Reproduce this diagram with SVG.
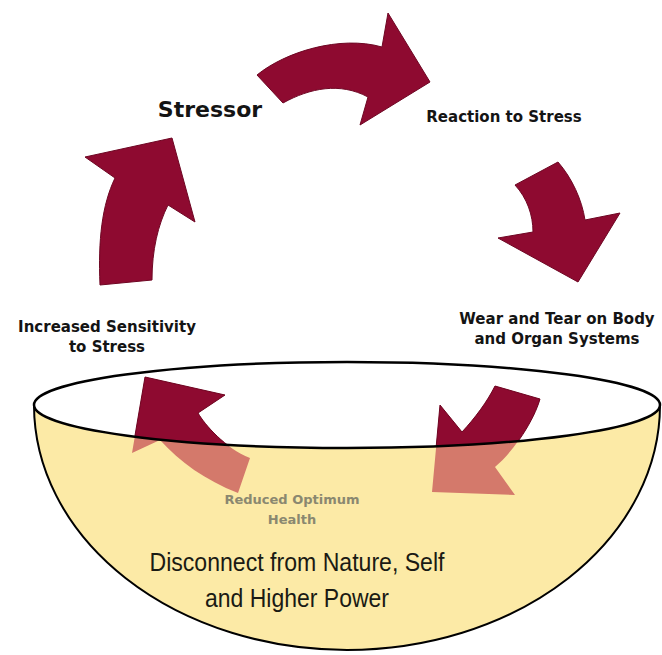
<svg xmlns="http://www.w3.org/2000/svg" width="662" height="655" viewBox="0 0 662 655">
<style>
.lbl{font-family:"DejaVu Sans",Verdana,sans-serif;font-weight:bold;fill:#141414;text-anchor:middle;font-size:15px}
.arrow{fill:#8E0A30;stroke:#6E0623;stroke-width:1;stroke-linejoin:round}
.sub{fill:#D4796B;stroke:none}
.grey{font-family:"DejaVu Sans",Verdana,sans-serif;font-weight:bold;fill:#8A8870;text-anchor:middle;font-size:13px}
.big{font-family:"Liberation Sans",Arial,sans-serif;font-size:25px;fill:#1a1a14;text-anchor:middle}
</style>
<defs>
<clipPath id="aboveRim"><path d="M0,0 H662 V405 H660 A313,43 0 0 1 34,405 H0 Z"/></clipPath>
<path id="a4" d="M495,386 L540,399 C534,420 515,450 495,467 L515,495 L432,492 L440,405 L462,432 C475,418 487,402 495,386 Z"/>
<path id="a5" d="M250,458 L238,493 C205,480 180,462 160,440 L132,453 L145,377 L225,395 L198,413 C205,425 225,448 250,458 Z"/>
</defs>
<rect width="662" height="655" fill="#fff"/>
<g id="bowl">
<path d="M34,405 A313,43 0 0 0 660,405 A313,245 0 0 1 34,405 Z" fill="#FCEAA6"/>
<path d="M34,405 A313,245 0 0 0 660,405" fill="none" stroke="#000" stroke-width="2"/>
</g>
<g id="connectors">
<path class="arrow" d="M100,285 C98,240 102,205 115,178 L85,157 L172,138 L195,222 L168,205 C158,225 152,250 152,280 Z"/>
<path class="arrow" d="M257,75 C285,52 340,35 382,47 L388,13 L430,82 L360,125 L368,97 C340,82 310,88 283,103 Z"/>
<path class="arrow" d="M515,185 C527,198 533,215 533,232 L498,238 L578,282 L620,213 L585,220 C582,200 572,178 558,162 Z"/>
<use href="#a4" class="sub"/>
<use href="#a4" class="arrow" clip-path="url(#aboveRim)"/>
<use href="#a5" class="sub"/>
<use href="#a5" class="arrow" clip-path="url(#aboveRim)"/>
</g>
<g id="rim">
<ellipse cx="347" cy="405" rx="313" ry="43" fill="none" stroke="#000" stroke-width="2.5"/>
</g>
<g id="stressor"><text class="lbl" x="210" y="117" style="font-size:22px">Stressor</text></g>
<g id="reaction"><text class="lbl" x="504" y="122">Reaction to Stress</text></g>
<g id="wear"><text class="lbl" x="557" y="324">Wear and Tear on Body</text><text class="lbl" x="557" y="344">and Organ Systems</text></g>
<g id="sensitivity"><text class="lbl" x="107" y="332">Increased Sensitivity</text><text class="lbl" x="107" y="352">to Stress</text></g>
<g id="reduced"><text class="grey" x="292" y="504">Reduced Optimum</text><text class="grey" x="292" y="524">Health</text></g>
<g id="disconnect"><text class="big" x="297" y="571" textLength="295" lengthAdjust="spacingAndGlyphs">Disconnect from Nature, Self</text><text class="big" x="297" y="607" textLength="184" lengthAdjust="spacingAndGlyphs">and Higher Power</text></g>
</svg>
